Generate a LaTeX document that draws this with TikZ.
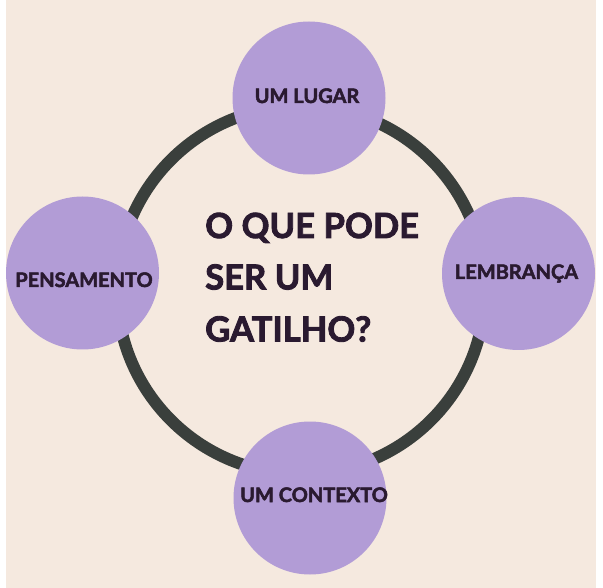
\documentclass[tikz,border=0pt]{standalone}
\usepackage{fontspec}
\setmainfont{Lato}[BoldFeatures={FakeBold=2.5}]
\definecolor{bg}{HTML}{F5E9DF}
\definecolor{bubblefill}{HTML}{B29CD6}
\definecolor{ringcol}{HTML}{3A3F3C}
\definecolor{ink}{HTML}{2A1A30}
\begin{document}
\begin{tikzpicture}[x=1pt,y=-1pt,
  bubble/.style={circle,fill=bubblefill,minimum size=153pt,inner sep=0pt},
  lab/.style={anchor=base,inner sep=0pt,text=ink,font=\fontsize{20}{24}\selectfont\bfseries},
  big/.style={anchor=base west,inner sep=0pt,text=ink,font=\fontsize{34.6}{40}\selectfont\bfseries}]
\useasboundingbox (0,0) rectangle (603,588);
\fill[white] (0,0) rectangle (603,588);
\fill[bg] (6,0) rectangle (596,588);
% ring
\node[circle,draw=ringcol,line width=12pt,minimum size=368pt,inner sep=0pt] (ring) at (301,290) {};
% bubbles
\node[bubble] (lugar) at (309,98) {};
\node[bubble] (pens) at (82.5,273) {};
\node[bubble] (lemb) at (518.5,273.5) {};
\node[bubble] (cont) at (310,498) {};
% labels
\node[lab] (tlugar) at (307,103) {UM LUGAR};
\node[lab] (tpens) at (84,287) {PENSAMENTO};
\node[lab] (tlemb) at (516.5,279) {LEMBRANÇA};
\node[lab] (tcont) at (314,502) {UM CONTEXTO};
% title
\node[big] (q1) at (205,238) {O QUE PODE};
\node[big] (q2) at (205,289.5) {SER UM};
\node[big] (q3) at (205,341.5) {GATILHO?};
\end{tikzpicture}
\end{document}
